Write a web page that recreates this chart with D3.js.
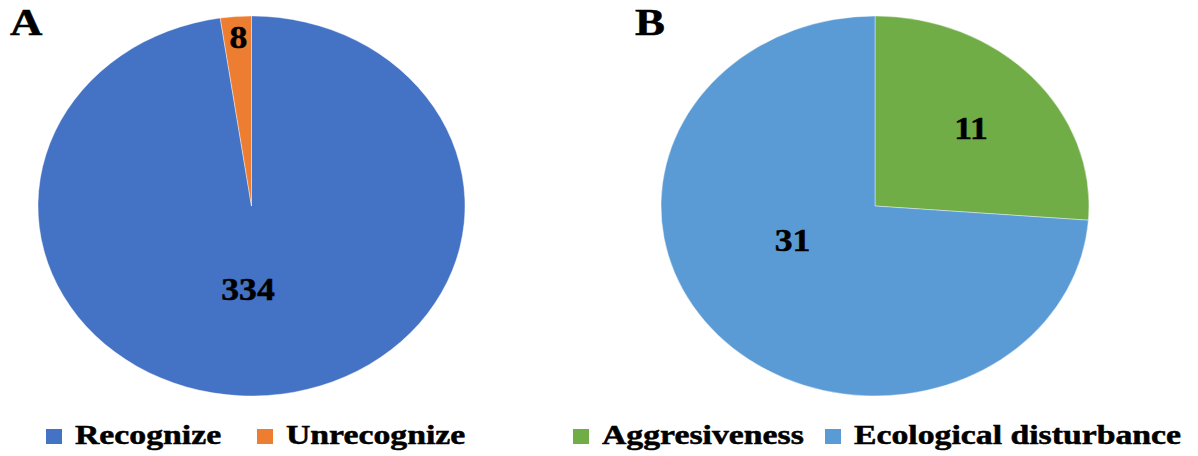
<!DOCTYPE html>
<html>
<head>
<meta charset="utf-8">
<script src="https://cdn.jsdelivr.net/npm/d3@7"></script>
<style>
  html, body { margin: 0; padding: 0; background: #fff; }
  svg { display: block; }
  text { font-family: "Liberation Serif", "Times New Roman", serif; font-weight: bold; fill: #000; stroke: #000; stroke-width: 0.5px; }
</style>
</head>
<body>
<svg id="chart" width="1198" height="456"></svg>
<script>
// Panel A: recognition of the species
const categoriesA = ["Recognize", "Unrecognize"];
const valuesA = [334, 8];
const colorsA = ["#4472C4", "#ED7D31"];

// Panel B: reasons given
const categoriesB = ["Aggresiveness", "Ecological disturbance"];
const valuesB = [11, 31];
const colorsB = ["#70AD47", "#5B9BD5"];

const panelLetters = ["A", "B"];

const svg = d3.select("#chart");

// layout of each panel: ellipse centre and radii, letter, legend and value-label spots
const panels = [
  {
    letter: panelLetters[0], letterX: 10,
    cx: 251.5, cy: 206, rx: 213.5, ry: 190,
    cats: categoriesA, vals: valuesA, colors: colorsA,
    labelPos: [[248, 289], [238.5, 37]],
    legendX: [46, 257]
  },
  {
    letter: panelLetters[1], letterX: 635,
    cx: 875, cy: 206, rx: 214, ry: 190,
    cats: categoriesB, vals: valuesB, colors: colorsB,
    labelPos: [[971, 128], [792.5, 240]],
    legendX: [573, 825]
  }
];

const pie = d3.pie().sort(null).value(d => d.value);

panels.forEach(p => {
  const data = p.cats.map((c, i) => ({ cat: c, value: p.vals[i], color: p.colors[i] }));
  const arcs = pie(data);
  const arc = d3.arc().innerRadius(0).outerRadius(p.ry);

  // slices drawn on a circle, stretched horizontally into an ellipse
  svg.append("g")
    .attr("transform", `translate(${p.cx},${p.cy}) scale(${p.rx / p.ry},1)`)
    .selectAll("path")
    .data(arcs)
    .join("path")
    .attr("d", arc)
    .attr("fill", d => d.data.color)
    .attr("stroke", "#ffffff")
    .attr("stroke-opacity", 0.5)
    .attr("stroke-width", 0.8)
    .attr("vector-effect", "non-scaling-stroke");

  // value labels
  arcs.forEach((a, i) => {
    const [lx, ly] = p.labelPos[i];
    svg.append("text")
      .attr("transform", `translate(${lx},${ly}) scale(1.15,1)`)
      .attr("text-anchor", "middle")
      .attr("dy", "0.35em")
      .style("font-size", "31px")
      .text(a.data.value);
  });

  // panel letter
  svg.append("text")
    .attr("transform", `translate(${p.letterX},35) scale(1.15,1)`)
    .style("font-size", "39px")
    .text(p.letter);

  // legend
  data.forEach((d, i) => {
    const x = p.legendX[i];
    svg.append("rect")
      .attr("x", x).attr("y", 429)
      .attr("width", 16).attr("height", 15)
      .attr("fill", d.color);
    svg.append("text")
      .attr("transform", `translate(${x + 29},444) scale(1.25,1)`)
      .style("font-size", "27px")
      .text(d.cat);
  });
});
</script>
</body>
</html>
